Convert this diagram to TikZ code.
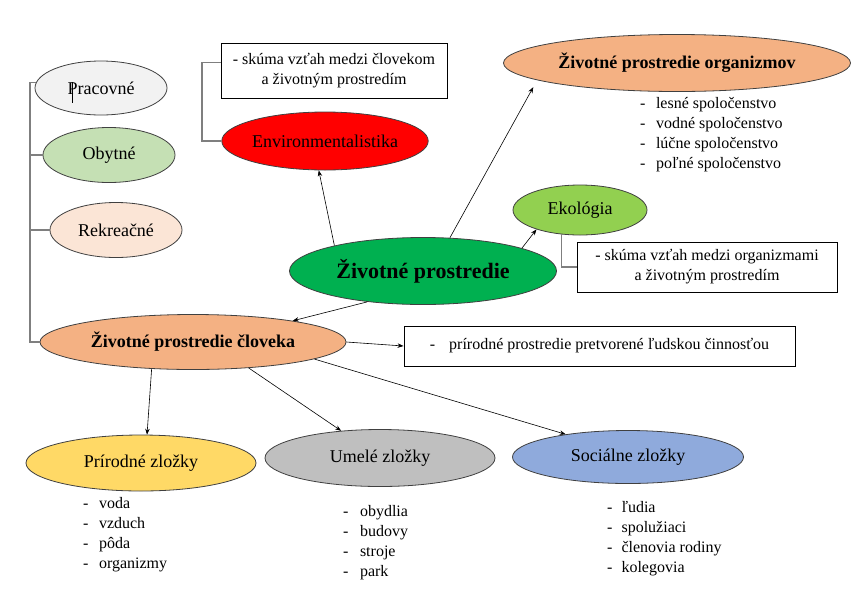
\documentclass[tikz,border=0pt]{standalone}
\usepackage{fontspec}
\setmainfont{Liberation Serif}
\usetikzlibrary{shapes.geometric,arrows.meta}
\definecolor{pracfill}{HTML}{F2F2F2}
\definecolor{obytfill}{HTML}{C5E0B4}
\definecolor{rekrfill}{HTML}{FBE5D6}
\definecolor{orgfill}{HTML}{F4B183}
\definecolor{ekofill}{HTML}{92D050}
\definecolor{mainfill}{HTML}{00B050}
\definecolor{prirfill}{HTML}{FFD966}
\definecolor{umelfill}{HTML}{BFBFBF}
\definecolor{socifill}{HTML}{8FAADC}
\definecolor{linkgray}{HTML}{7F7F7F}

\begin{document}
\begin{tikzpicture}[x=1pt,y=-1pt]
        \tikzset{
        zp node/.style={ellipse,draw=black!75,line width=0.8pt,inner sep=0,font=\fontsize{18}{22}\selectfont},
        zp box/.style={rectangle,draw=black,line width=0.9pt,inner sep=0,align=center,font=\fontsize{16}{20}\selectfont},
        zp arrow/.style={-{Stealth[length=6pt,width=4.5pt]}},
        zp link/.style={draw=linkgray,line width=1.1pt},
        zp list/.style={anchor=base west,inner sep=0,font=\fontsize{16}{20}\selectfont}
        }
        \useasboundingbox (0,0) rectangle (864,595);

        % elipsy
        \node[zp node,fill=pracfill,minimum width=132pt,minimum height=54pt] (prac) at (101,88) {Pracovné};
        \node[zp node,fill=obytfill,minimum width=132pt,minimum height=55pt] (obyt) at (109,155) {Obytné};
        \node[zp node,fill=rekrfill,minimum width=132pt,minimum height=55pt] (rekr) at (116,230) {Rekreačné};
        \node[zp node,fill=red,minimum width=177pt,minimum height=58pt] (envi) at (325,141) {Environmentalistika};
        \node[zp node,fill=orgfill,minimum width=347pt,minimum height=57pt,font=\fontsize{18}{22}\selectfont\bfseries] (org) at (677,63) {Životné prostredie organizmov};
        \node[zp node,fill=ekofill,minimum width=134pt,minimum height=50pt] (eko) at (580,210) {Ekológia};
        \node[zp node,fill=mainfill,minimum width=267pt,minimum height=67pt,font=\fontsize{22}{26}\selectfont\bfseries] (main) at (423,271) {Životné prostredie};
        \node[zp node,fill=orgfill,minimum width=306pt,minimum height=55pt,font=\fontsize{18}{22}\selectfont\bfseries] (clov) at (193,342) {Životné prostredie človeka};
        \node[zp node,fill=prirfill,minimum width=230pt,minimum height=56pt] (prir) at (141,463) {Prírodné zložky};
        \node[zp node,fill=umelfill,minimum width=230pt,minimum height=57pt] (umel) at (380,458) {Umelé zložky};
        \node[zp node,fill=socifill,minimum width=231pt,minimum height=53pt] (soci) at (628,457) {Sociálne zložky};

        % ramceky
        \node[zp box,minimum width=226pt,minimum height=55pt] (envibox) at (334,70.5) {- skúma vzťah medzi človekom\\a životným prostredím};
        \node[zp box,minimum width=260pt,minimum height=50pt] (ekobox) at (707,267) {- skúma vzťah medzi organizmami\\a životným prostredím};
        \node[zp box,minimum width=391pt,minimum height=40pt] (clovbox) at (599.5,346) {-\hspace{14pt}prírodné prostredie pretvorené ľudskou činnosťou};

        % zoznamy
        \node[zp list] (orglist) at (640,108) {\begin{tabular}[t]{@{}l@{\hspace{10.5pt}}l@{}}- & lesné spoločenstvo\\- & vodné spoločenstvo\\- & lúčne spoločenstvo\\- & poľné spoločenstvo\end{tabular}};
        \node[zp list] (prirlist) at (83,508) {\begin{tabular}[t]{@{}l@{\hspace{10.5pt}}l@{}}- & voda\\- & vzduch\\- & pôda\\- & organizmy\end{tabular}};
        \node[zp list] (umellist) at (343,516) {\begin{tabular}[t]{@{}l@{\hspace{11.5pt}}l@{}}- & obydlia\\- & budovy\\- & stroje\\- & park\end{tabular}};
        \node[zp list] (socilist) at (607,512) {\begin{tabular}[t]{@{}l@{\hspace{9pt}}l@{}}- & ľudia\\- & spolužiaci\\- & členovia rodiny\\- & kolegovia\end{tabular}};

        % sive spojnice
        \coordinate (lspine) at (30,0);
        \coordinate (espine) at (202,0);
        \draw[zp link] (prac.175) -- (prac.175 -| lspine) |- (clov.west);
        \draw[zp link] (obyt.west) -- (obyt.west -| lspine);
        \draw[zp link] (rekr.west) -- (rekr.west -| lspine);
        \draw[zp link] (envibox.176) -- (envibox.176 -| espine) |- (envi.west);
        \draw[zp link] (eko.233) |- (ekobox.west);
        \draw[line width=0.6pt] (72,82) -- (72,103);

        % sipky
        \path[-,draw,line width=0.6pt]
        (main.164) edge[zp arrow] (envi.258)
        (main.51) edge[zp arrow,shorten >=8pt] (org.187)
        (main.13) edge[zp arrow] (eko.204)
        (main.209) edge[zp arrow] (clov.12)
        (clov.east) edge[zp arrow] (clovbox.west)
        (clov.213) edge[zp arrow] (prir.78)
        (clov.335) edge[zp arrow] (umel.145)
        (clov.352) edge[zp arrow] (soci.160)
        ;
\end{tikzpicture}
\end{document}
